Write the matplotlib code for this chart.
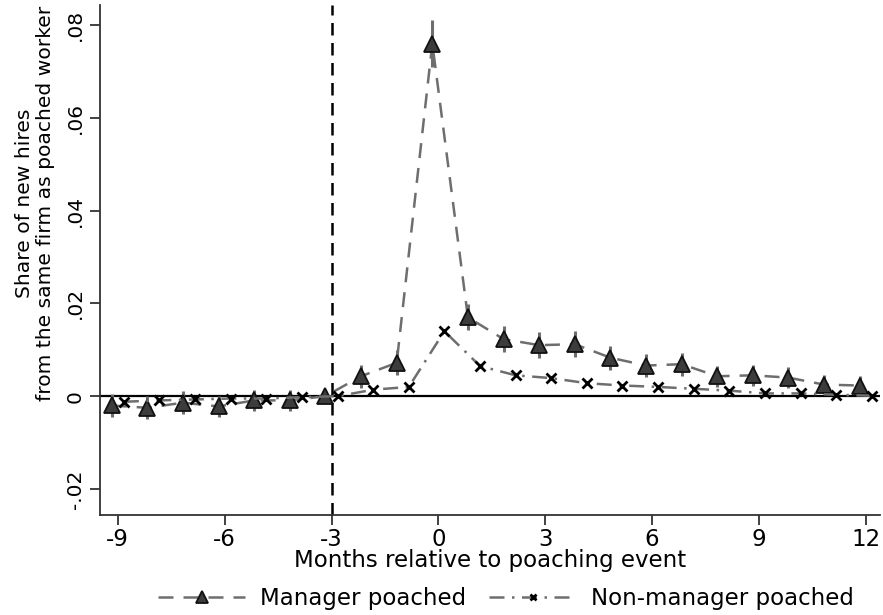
import matplotlib
matplotlib.use("Agg")
import matplotlib.pyplot as plt
import numpy as np

months = list(range(-9, 13))
manager = [-0.0020, -0.0025, -0.0014, -0.0022, -0.0009, -0.0009, 0.0000, 0.0043, 0.0072,
           0.0760, 0.0170, 0.0123, 0.0110, 0.0112, 0.0083, 0.0066, 0.0069, 0.0043,
           0.0045, 0.0040, 0.0025, 0.0023]
manager_ci = [0.0025, 0.0025, 0.0025, 0.0022, 0.0022, 0.0022, 0.0008, 0.0025, 0.0027,
              0.0050, 0.0028, 0.0028, 0.0028, 0.0028, 0.0026, 0.0025, 0.0025, 0.0023,
              0.0023, 0.0022, 0.0020, 0.0020]
nonmanager = [-0.0012, -0.0009, -0.0007, -0.0005, -0.0005, -0.0002, 0.0000, 0.0014, 0.0020,
              0.0140, 0.0065, 0.0045, 0.0039, 0.0028, 0.0023, 0.0020, 0.0016, 0.0012,
              0.0006, 0.0006, 0.0003, 0.0001]
xticks = [-9, -6, -3, 0, 3, 6, 9, 12]
yticks = [-0.02, 0, 0.02, 0.04, 0.06, 0.08]
ytick_labels = ["-.02", "0", ".02", ".04", ".06", ".08"]

plt.rcParams['font.family'] = ['DejaVu Sans']
fig = plt.figure(figsize=(8.83, 6.15), dpi=100)
ax = fig.add_axes([100/883, 1-515/615, 780/883, 510/615])

x = np.array(months, dtype=float)
m = np.array(manager)
ci = np.array(manager_ci)
xm = x - 0.17
xn = x + 0.17

ax.axhline(0, color='black', lw=1.6, zorder=1)
ax.axvline(-3, color='black', lw=1.8, ls=(0, (5, 3)), zorder=1)

ax.vlines(xm, m - ci, m + ci, color='#6e6e6e', lw=2.2, zorder=2)
l1, = ax.plot(xm, m, color='#6e6e6e', lw=1.8, ls=(0, (6, 4)), marker='^',
              markersize=11, markerfacecolor='#3c3c3c', markeredgecolor='#111111',
              markeredgewidth=1.3, zorder=3, label='Manager poached')
l2, = ax.plot(xn, nonmanager, color='#6e6e6e', lw=1.8, ls=(0, (6, 3, 1, 3)), marker='x',
              markersize=6.5, markeredgecolor='black', markeredgewidth=2.0, zorder=4,
              label='Non-manager poached')

ax.set_xlim(-9.5, 12.4)
ax.set_ylim(-0.0256, 0.0843)
ax.set_xticks(xticks)
ax.set_xticklabels([str(t) for t in xticks])
ax.set_yticks(yticks)
ax.set_yticklabels(ytick_labels, rotation=90, va='center')
ax.tick_params(axis='x', labelsize=16.5, length=7, width=1.3, color='#333333', pad=2)
ax.tick_params(axis='y', labelsize=14.5, length=7, width=1.3, color='#333333', pad=4)
for s in ['top', 'right']:
    ax.spines[s].set_visible(False)
for s in ['left', 'bottom']:
    ax.spines[s].set_linewidth(1.3)
    ax.spines[s].set_color('#333333')

ax.set_xlabel('Months relative to poaching event', fontsize=16.5, labelpad=-1)
ax.set_ylabel('Share of new hires\nfrom the same firm as poached worker', fontsize=14.6,
              linespacing=1.15)
ax.yaxis.set_label_coords(-0.058, 0.612)

fig.legend(handles=[l1, l2], loc='center', bbox_to_anchor=(506/883, 1-599/615), ncol=2,
           frameon=False, fontsize=16.5, handlelength=3.8, columnspacing=1.0,
           handletextpad=0.65, markerscale=0.75)

fig.savefig('out.png', dpi=100)
